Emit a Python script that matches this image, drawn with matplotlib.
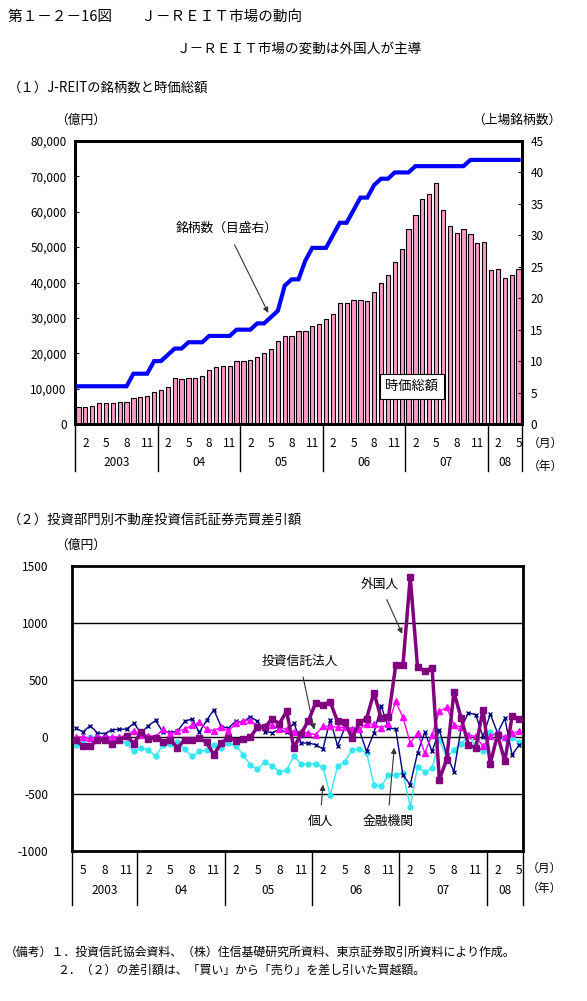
"""J-REIT market chart (第1-2-16図): listed count / market cap, and net buying by investor type."""
import matplotlib
matplotlib.use('Agg')
import matplotlib.pyplot as plt
import numpy as np

plt.rcParams['font.family'] = ['Noto Sans CJK JP', 'DejaVu Sans']
plt.rcParams['axes.unicode_minus'] = False

W, H = 587, 1001

# ── Data: (1) Jan 2003 – May 2008, monthly ───────────────────────────────────

MARKET_CAP = [  # 時価総額 (億円)
    4700, 4700, 5200, 5800, 5800, 5800, 6100, 6100, 7300, 7500, 7800, 9100,
    9500, 10500, 13100, 12600, 12900, 12900, 13700, 15300, 16000, 16500, 16500, 17700,
    17700, 18000, 19000, 20200, 21300, 23600, 24900, 24900, 26400, 26400, 27800, 28400,
    29600, 31000, 34100, 34100, 35100, 35100, 34700, 37200, 40000, 42200, 45700, 49600,
    55000, 59200, 63500, 64900, 68000, 60600, 56100, 53900, 55200, 53600, 51300, 51500,
    43400, 43700, 41200, 42000, 43700,
]
NUM_LISTED = [  # 上場銘柄数
    6, 6, 6, 6, 6, 6, 6, 6, 8, 8, 8, 10,
    10, 11, 12, 12, 13, 13, 13, 14, 14, 14, 14, 15,
    15, 15, 16, 16, 17, 18, 22, 23, 23, 26, 28, 28,
    28, 30, 32, 32, 34, 36, 36, 38, 39, 39, 40, 40,
    40, 41, 41, 41, 41, 41, 41, 41, 41, 42, 42, 42,
    42, 42, 42, 42, 42,
]
TOP_YEARS = ['2003', '04', '05', '06', '07', '08']
TOP_YEAR_START = 0            # Jan 2003 is index 0

# ── Data: (2) Apr 2003 – May 2008, monthly (億円) ─────────────────────────────

FOREIGN = [  # 外国人
    -23, -82, -76, -30, -25, -64, -30, 12, -58,
    41, -20, -5, -40, -23, -96, -23, -29, -12, -47, -155, -53,
    -5, -33, -15, -2, 86, 86, 158, 117, 225, -96, 30, 142,
    300, 283, 307, 137, 131, -9, 128, 161, 389, 166, 172, 628,
    634, 1402, 613, 578, 607, -374, -199, 394, 166, -67, -96, 239,
    -234, 20, -213, 181, 161,
]
TRUST = [  # 投資信託法人
    0, 0, -12, 3, 0, 0, 0, 12, 56,
    20, 13, 3, 67, 25, 50, 70, 102, 128, 70, 55, 90,
    50, 120, 141, 149, 88, 100, 106, 70, 72, 45, 41, 35,
    20, 93, 93, 85, 85, 73, 70, 114, 114, 79, 114, 312,
    172, -53, 35, -140, 20, 225, 260, 108, 85, 15, 6, -82,
    6, 35, -3, 35, 50,
]
INDIVIDUAL = [  # 個人
    -72, -53, 3, -9, 3, -23, -23, -57, -127,
    -99, -114, -169, -70, -58, -40, -108, -169, -126, -117, -73, -94,
    -55, -75, -155, -242, -283, -222, -251, -304, -292, -164, -240, -240,
    -235, -266, -511, -257, -219, -111, -105, -140, -418, -429, -336, -330,
    -318, -610, -260, -307, -272, -29, -178, -111, -61, 15, -76, -120,
    41, 3, -9, -9, -44,
]
BANKS = [  # 金融機関
    79, 45, 100, 35, 29, 64, 67, 70, 120,
    35, 100, 145, 42, 42, 50, 137, 158, 41, 146, 239, 92,
    79, 137, 128, 178, 137, 48, 38, 64, 41, 124, -53, -53,
    -67, -105, 152, -76, 79, 73, 58, -126, 35, 274, 79, 70,
    -336, -418, -140, 42, -127, 61, -155, -304, 79, 213, 195, 3,
    202, 35, 163, -157, -67,
]
BOTTOM_YEARS = ['2003', '04', '05', '06', '07', '08']
BOTTOM_START_MONTH = 4        # April 2003


def fpos(x, y):
    """pixel (from top-left) -> figure fraction"""
    return x / W, 1 - y / H


def month_axis(ax, n, start_month, years, ylab_m, ylab_y, ytick_end):
    """Excel-style two-row category axis: months 2/5/8/11 and years."""
    trans = ax.get_xaxis_transform()
    months = [(start_month - 1 + i) % 12 + 1 for i in range(n)]
    for i, m in enumerate(months):
        if m in (2, 5, 8, 11):
            ax.text(i, ylab_m, str(m), transform=trans, ha='center', va='center',
                    fontsize=8.5)
    # year boundaries
    bounds = [-0.5] + [i - 0.5 for i, m in enumerate(months) if m == 1 and i > 0] + [n - 0.5]
    for b in bounds:
        ax.plot([b, b], [0, ytick_end], transform=trans, color='black', lw=1,
                clip_on=False)
    for y, (a, b) in zip(years, zip(bounds[:-1], bounds[1:])):
        ax.text((a + b) / 2, ylab_y, y, transform=trans, ha='center', va='center',
                fontsize=8.5)


fig = plt.figure(figsize=(W / 100, H / 100), dpi=100)

# ── Header texts ─────────────────────────────────────────────────────────────

fig.text(*fpos(8, 17), '第１－２－16図　　Ｊ－ＲＥＩＴ市場の動向', fontsize=10.5, va='center')
fig.text(*fpos(299, 50), 'Ｊ－ＲＥＩＴ市場の変動は外国人が主導', fontsize=9.8,
         ha='center', va='center')
fig.text(*fpos(8, 88), '（１）J-REITの銘柄数と時価総額', fontsize=9.6, va='center')
fig.text(*fpos(55, 120), '（億円）', fontsize=9.2, va='center')
fig.text(*fpos(472, 120), '（上場銘柄数）', fontsize=9.2, va='center')

# ── Panel 1: bars + listed count ─────────────────────────────────────────────

n1 = len(MARKET_CAP)
x1 = np.arange(n1)
ax1 = fig.add_axes([75 / W, 1 - 424 / H, 447 / W, 283 / H])
ax1.bar(x1, MARKET_CAP, width=0.62, color='#FF99CC', edgecolor='black', linewidth=0.8,
        zorder=2)
ax1.set_xlim(-0.5, n1 - 0.5)
ax1.set_ylim(0, 80000)
ax1.set_yticks(np.arange(0, 80001, 10000))
ax1.set_yticklabels([f'{v:,}' for v in range(0, 80001, 10000)], fontsize=8.5)
ax1.tick_params(axis='y', direction='in', length=3, pad=6)
ax1.set_xticks([])
for s in ax1.spines.values():
    s.set_linewidth(2)

ax2 = ax1.twinx()
ax2.plot(x1, NUM_LISTED, color='#0000FF', lw=3, solid_joinstyle='miter', zorder=3)
ax2.set_ylim(0, 45)
ax2.set_yticks(np.arange(0, 46, 5))
ax2.tick_params(axis='y', direction='in', length=3, pad=6, labelsize=8.5)
for s in ax2.spines.values():
    s.set_linewidth(2)

month_axis(ax1, n1, 1, TOP_YEARS, -0.068, -0.137, -0.165)
fig.text(*fpos(528, 443), '（月）', fontsize=8.5, va='center')
fig.text(*fpos(528, 466), '（年）', fontsize=8.5, va='center')

ax1.annotate('銘柄数（目盛右）', xy=(27.6, 31400), xytext=(21.5, 55400),
             ha='center', va='center', fontsize=9.2,
             arrowprops=dict(arrowstyle='-|>', color='#333333', lw=0.8,
                             mutation_scale=8, shrinkA=6, shrinkB=0))
ax1.text(48.5, 10600, '時価総額', ha='center', va='center', fontsize=9.5, zorder=5,
         bbox=dict(boxstyle='square,pad=0.45', facecolor='white', edgecolor='black',
                   linewidth=0.8))

# ── Panel 2: net buying by investor type ─────────────────────────────────────

fig.text(*fpos(8, 520), '（２）投資部門別不動産投資信託証券売買差引額', fontsize=9.6, va='center')
fig.text(*fpos(55, 545), '（億円）', fontsize=9.2, va='center')

n2 = len(FOREIGN)
x2 = np.arange(n2)
ax3 = fig.add_axes([72 / W, 1 - 851 / H, 451 / W, 285 / H])
for v in (1000, 500, 0, -500):
    ax3.axhline(v, color='black', lw=1, zorder=1)
ax3.plot(x2, INDIVIDUAL, color='#33E6F0', lw=1, marker='o', ms=3.5, zorder=2)
ax3.plot(x2, BANKS, color='#000080', lw=1, marker='x', ms=3.5, mew=1, zorder=3)
ax3.plot(x2, TRUST, color='#FF00FF', lw=1, marker='^', ms=4.5, zorder=4)
ax3.plot(x2, FOREIGN, color='#800080', lw=2.5, marker='s', ms=4, zorder=5)
ax3.set_xlim(-0.5, n2 - 0.5)
ax3.set_ylim(-1000, 1500)
ax3.set_yticks(np.arange(-1000, 1501, 500))
ax3.set_yticklabels([str(v) for v in range(-1000, 1501, 500)], fontsize=8.5)
ax3.tick_params(axis='y', length=0, pad=17)
ax3.set_xticks([])
for s in ax3.spines.values():
    s.set_linewidth(2)

month_axis(ax3, n2, BOTTOM_START_MONTH, BOTTOM_YEARS, -0.067, -0.14, -0.19)
fig.text(*fpos(527, 868), '（月）', fontsize=8.5, va='center')
fig.text(*fpos(527, 888), '（年）', fontsize=8.5, va='center')

arrow = dict(arrowstyle='-|>', color='#333333', lw=0.8, mutation_scale=8,
             shrinkA=5, shrinkB=0)
ax3.annotate('外国人', xy=(44.9, 905), xytext=(41.8, 1342), ha='center', va='center',
             fontsize=9.2, arrowprops=arrow)
ax3.annotate('投資信託法人', xy=(32.8, 64), xytext=(30.8, 668), ha='center', va='center',
             fontsize=9.2, arrowprops=arrow)
ax3.annotate('個人', xy=(34.0, -418), xytext=(33.6, -740), ha='center', va='center',
             fontsize=9.2, arrowprops=arrow)
ax3.annotate('金融機関', xy=(43.8, -94), xytext=(42.9, -740), ha='center', va='center',
             fontsize=9.2, arrowprops=arrow)

# ── Notes ────────────────────────────────────────────────────────────────────

fig.text(*fpos(5, 952), '（備考）１．投資信託協会資料、（株）住信基礎研究所資料、東京証券取引所資料により作成。',
         fontsize=8.6, va='center')
fig.text(*fpos(57, 970), '２．（２）の差引額は、「買い」から「売り」を差し引いた買越額。',
         fontsize=8.6, va='center')

fig.savefig('out.png', dpi=100)
